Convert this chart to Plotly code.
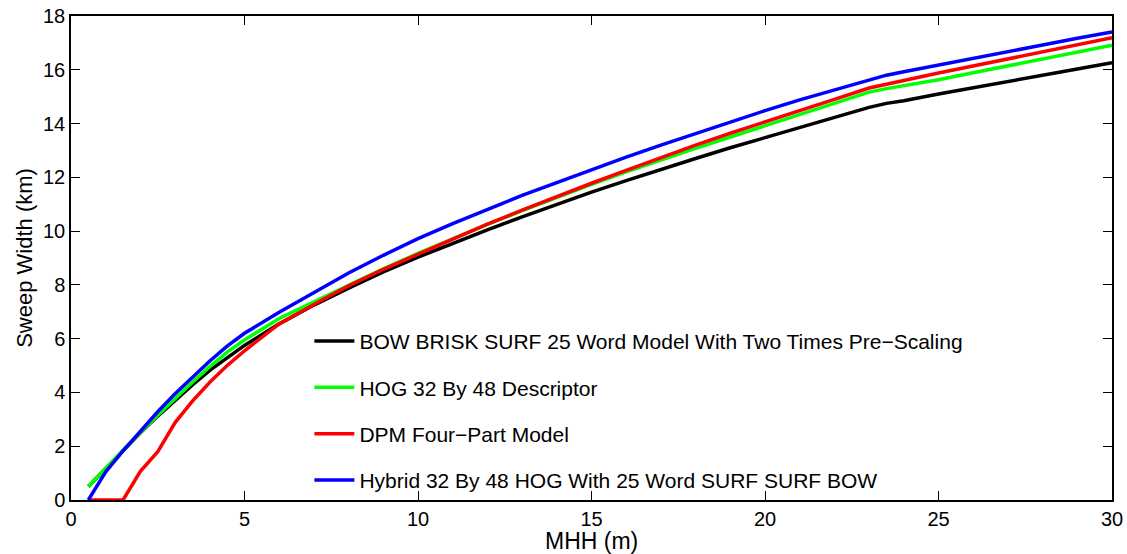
import plotly.graph_objects as go

mhh = [0.5, 1, 1.5, 2, 2.5, 3, 3.5, 4, 4.5, 5,
       6, 7, 8, 9, 10, 11, 12, 13, 14, 15, 16, 17, 18, 19, 20, 21, 22, 23,
       23.5, 24, 25, 26, 27, 28, 29, 30]

bow_brisk = [0.5, 1.18, 1.85, 2.5, 3.12, 3.72, 4.28, 4.82, 5.3, 5.75,
             6.55, 7.25, 7.88, 8.48, 9.03, 9.55, 10.05, 10.53, 11.0, 11.45, 11.88, 12.3, 12.7, 13.1, 13.48, 13.85, 14.22, 14.6,
             14.75, 14.85, 15.1, 15.34, 15.57, 15.8, 16.03, 16.26]

hog = [0.5, 1.18, 1.85, 2.52, 3.15, 3.77, 4.38, 4.96, 5.5, 5.95,
       6.75, 7.37, 8.0, 8.6, 9.17, 9.72, 10.25, 10.76, 11.26, 11.74, 12.2, 12.65, 13.08, 13.5, 13.92, 14.35, 14.76, 15.17,
       15.3, 15.4, 15.63, 15.89, 16.14, 16.4, 16.65, 16.91]

dpm = [0.0, 0.0, 0.0, 1.07, 1.8, 2.88, 3.68, 4.38, 5.0, 5.55,
       6.55, 7.27, 7.97, 8.58, 9.15, 9.72, 10.26, 10.78, 11.29, 11.78, 12.26, 12.74, 13.2, 13.64, 14.07, 14.49, 14.9, 15.32,
       15.47, 15.6, 15.88, 16.14, 16.41, 16.67, 16.93, 17.19]

hybrid = [0.0, 1.05, 1.83, 2.58, 3.28, 3.95, 4.58, 5.17, 5.72, 6.2,
          6.98, 7.72, 8.44, 9.1, 9.72, 10.28, 10.82, 11.33, 11.8, 12.28, 12.75, 13.2, 13.63, 14.06, 14.48, 14.88, 15.26, 15.64,
          15.8, 15.93, 16.17, 16.42, 16.67, 16.92, 17.17, 17.41]

names = [
    "BOW BRISK SURF 25 Word Model With Two Times Pre\u2212Scaling",
    "HOG 32 By 48 Descriptor",
    "DPM Four\u2212Part Model",
    "Hybrid 32 By 48 HOG With 25 Word SURF SURF BOW",
]
series = [bow_brisk, hog, dpm, hybrid]
colors = ["#000000", "#00ff00", "#ff0000", "#0000ff"]

x_title = "MHH (m)"
y_title = "Sweep Width (km)"

FONT = "Liberation Sans, Arial, Helvetica, sans-serif"

fig = go.Figure()
for i, (nm, ys, c) in enumerate(zip(names, series, colors)):
    fig.add_trace(go.Scatter(
        x=mhh, y=ys, mode="lines", name=nm,
        line=dict(color=c, width=3.5),
        legendgroup=f"g{i}",
    ))

axis_common = dict(
    showline=True, linecolor="black", linewidth=1.5, mirror="ticks",
    ticks="inside", ticklen=9, tickwidth=1.2, tickcolor="black",
    showgrid=False, zeroline=False, automargin=False,
    tickfont=dict(family=FONT, size=20, color="black"),
)

fig.update_layout(
    width=1127, height=554,
    margin=dict(l=71, r=15, t=16, b=54),
    paper_bgcolor="white", plot_bgcolor="white",
    font=dict(family=FONT, color="black"),
    xaxis=dict(range=[0, 30], tick0=0, dtick=5, **axis_common),
    yaxis=dict(range=[0, 18], tick0=0, dtick=2,
               title=dict(text=y_title, font=dict(family=FONT, size=22), standoff=4),
               **axis_common),
    annotations=[dict(
        text=x_title, xref="paper", yref="paper", x=0.5, y=-0.084,
        xanchor="center", yanchor="middle", showarrow=False,
        font=dict(family=FONT, size=23, color="black"),
    )],
    showlegend=True,
    legend=dict(
        x=0.229, y=0.37, xanchor="left", yanchor="top",
        bgcolor="rgba(0,0,0,0)", borderwidth=0,
        font=dict(family=FONT, size=21, color="black"),
        tracegroupgap=16, itemwidth=40,
    ),
)

fig.write_html("out.html")
